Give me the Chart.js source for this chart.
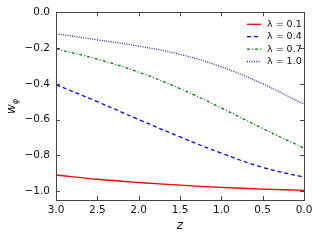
<!DOCTYPE html>
<html>
<head>
<meta charset="utf-8">
<script src="https://cdn.jsdelivr.net/npm/chart.js@4"></script>
<style>
    body { margin: 0; background: #fff; }
    #wrap { width: 320px; height: 240px; }
</style>
</head>
<body>
<div id="wrap"><canvas id="wphiChart" width="320" height="240"></canvas></div>
<script>
const zValues = [3.0, 2.5, 2.0, 1.5, 1.0, 0.5, 0.0];
const wLambda01 = [-0.910, -0.934, -0.952, -0.967, -0.979, -0.989, -0.996];
const wLambda04 = [-0.405, -0.500, -0.600, -0.697, -0.788, -0.868, -0.922];
const wLambda07 = [-0.205, -0.262, -0.335, -0.427, -0.535, -0.650, -0.760];
const wLambda10 = [-0.120, -0.154, -0.189, -0.235, -0.305, -0.400, -0.515];
const seriesLabels = ['\u03bb = 0.1', '\u03bb = 0.4', '\u03bb = 0.7', '\u03bb = 1.0'];
const xTicks = [3.0, 2.5, 2.0, 1.5, 1.0, 0.5, 0.0];
const yTicks = [-1.0, -0.8, -0.6, -0.4, -0.2, 0.0];

const tickFont = {family: '"DejaVu Sans", sans-serif', size: 10.5};

function toPoints(values) {
    return values.map((v, i) => ({x: zValues[i], y: v}));
}

function makeDataset(label, values, color, dash) {
    return {
        label: label,
        data: toPoints(values),
        borderColor: color,
        backgroundColor: color,
        borderWidth: 1.3,
        borderDash: dash,
        pointRadius: 0,
        fill: false,
        tension: 0.4
    };
}

// frame, inward ticks on all four sides, legend and axis titles
const framePlugin = {
    id: 'frame',
    afterDraw(chart) {
        const ctx = chart.ctx;
        const area = chart.chartArea;
        const xs = chart.scales.x;
        const ys = chart.scales.y;
        ctx.save();
        ctx.strokeStyle = '#444';
        ctx.lineWidth = 1;
        ctx.strokeRect(Math.round(area.left) + 0.5, Math.round(area.top) + 0.5,
            Math.round(area.right - area.left), Math.round(area.bottom - area.top));

        ctx.beginPath();
        xTicks.forEach(v => {
            let px = Math.round(xs.getPixelForValue(v)) + 0.5;
            ctx.moveTo(px, area.bottom);
            ctx.lineTo(px, area.bottom - 4);
            ctx.moveTo(px, area.top);
            ctx.lineTo(px, area.top + 4);
        });
        yTicks.forEach(v => {
            let py = Math.round(ys.getPixelForValue(v)) + 0.5;
            ctx.moveTo(area.left, py);
            ctx.lineTo(area.left + 4, py);
            ctx.moveTo(area.right, py);
            ctx.lineTo(area.right - 4, py);
        });
        ctx.stroke();

        // legend
        let rowY = area.top + 12;
        ctx.font = '9.5px "DejaVu Sans", sans-serif';
        ctx.textBaseline = 'middle';
        ctx.textAlign = 'left';
        chart.data.datasets.forEach(ds => {
            ctx.beginPath();
            ctx.strokeStyle = ds.borderColor;
            ctx.lineWidth = ds.borderWidth;
            ctx.setLineDash(ds.borderDash || []);
            ctx.moveTo(247, rowY);
            ctx.lineTo(261, rowY);
            ctx.stroke();
            ctx.setLineDash([]);
            ctx.fillStyle = '#111';
            ctx.fillText(ds.label, 267, rowY);
            rowY += 12.4;
        });

        // x title
        ctx.fillStyle = '#111';
        ctx.font = 'italic 12px "DejaVu Sans", sans-serif';
        ctx.textAlign = 'center';
        ctx.textBaseline = 'middle';
        ctx.fillText('z', (area.left + area.right) / 2, 226);

        // y title w_phi
        ctx.translate(12, (area.top + area.bottom) / 2);
        ctx.rotate(-Math.PI / 2);
        ctx.textAlign = 'left';
        ctx.textBaseline = 'alphabetic';
        ctx.font = 'italic 12px "DejaVu Sans", sans-serif';
        let wWidth = ctx.measureText('w').width;
        let phiWidth = 6;
        ctx.fillText('w', -(wWidth + phiWidth) / 2, 3);
        ctx.font = 'italic 8px "DejaVu Sans", sans-serif';
        ctx.fillText('\u03c6', -(wWidth + phiWidth) / 2 + wWidth, 6);
        ctx.restore();
    }
};

let ctx = document.getElementById('wphiChart');
new Chart(ctx, {
    type: 'line',
    data: {
        datasets: [
            makeDataset(seriesLabels[0], wLambda01, '#ff0000', []),
            makeDataset(seriesLabels[1], wLambda04, '#0000ff', [4, 3]),
            makeDataset(seriesLabels[2], wLambda07, '#008000', [3, 2, 1, 2]),
            makeDataset(seriesLabels[3], wLambda10, '#2a2a9a', [1, 1.3])
        ]
    },
    options: {
        responsive: false,
        animation: false,
        devicePixelRatio: 1,
        layout: {
            padding: {left: 0, top: 11, right: 16, bottom: 0}
        },
        scales: {
            x: {
                type: 'linear',
                reverse: true,
                min: 0,
                max: 3,
                afterBuildTicks: scale => {
                    scale.ticks = xTicks.map(v => ({value: v}));
                },
                afterFit: scale => {
                    scale.height = 40;
                },
                grid: {display: false, drawTicks: false},
                border: {display: false},
                ticks: {
                    color: '#111',
                    font: tickFont,
                    padding: 4,
                    maxRotation: 0,
                    callback: v => v.toFixed(1)
                }
            },
            y: {
                type: 'linear',
                min: -1.05,
                max: 0,
                afterBuildTicks: scale => {
                    scale.ticks = yTicks.map(v => ({value: v}));
                },
                afterFit: scale => {
                    scale.width = 56;
                },
                grid: {display: false, drawTicks: false},
                border: {display: false},
                ticks: {
                    color: '#111',
                    font: tickFont,
                    padding: 6,
                    callback: v => v.toFixed(1).replace('-', '\u2212')
                }
            }
        },
        plugins: {
            legend: {display: false},
            tooltip: {enabled: false},
            title: {display: false}
        }
    },
    plugins: [framePlugin]
});
</script>
</body>
</html>
